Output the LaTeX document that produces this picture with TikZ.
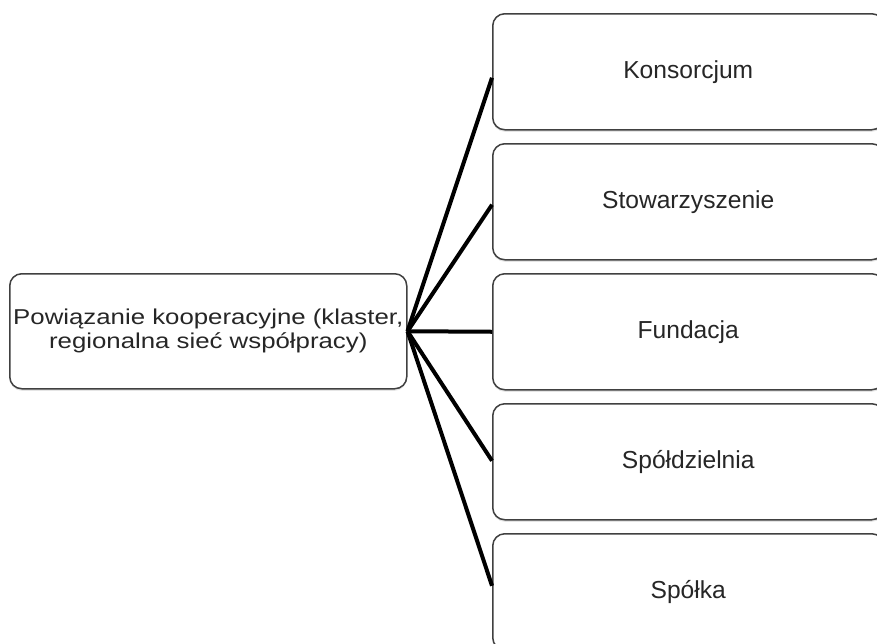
\documentclass[tikz,border=0pt]{standalone}
\usepackage{fontspec}
\setmainfont{Liberation Sans}
\newfontfamily\widefont[FakeStretch=1.2]{Liberation Sans}
\usetikzlibrary{shadows}
\begin{document}
\begin{tikzpicture}[x=1pt,y=-1pt,
  box/.style={draw=black!75, line width=1.5pt, rounded corners=12pt, fill=white,
    minimum width=391pt, minimum height=116pt, inner sep=0pt, anchor=north west,
    drop shadow={shadow xshift=0pt, shadow yshift=-2pt, opacity=0.25, fill=black!40},
    text=black!85, font=\fontsize{24.6pt}{28pt}\selectfont},
  srcbox/.style={box, minimum width=397pt, minimum height=115pt, align=center,
    font=\widefont\fontsize{21.5pt}{24pt}\selectfont},
  link/.style={line width=4pt, draw=black}]
\useasboundingbox (0,0) rectangle (877,643);
\node[srcbox] (src) at (9,273) {Powiązanie kooperacyjne (klaster,\\regionalna sieć współpracy)};
\node[box] (k1) at (492,13) {Konsorcjum};
\node[box] (k2) at (492,143) {Stowarzyszenie};
\node[box] (k3) at (492,273) {Fundacja};
\node[box] (k4) at (492,403) {Spółdzielnia};
\node[box] (k5) at (492,533) {Spółka};
\draw[link] (src.east) -- ([yshift=-6pt]k1.west);
\draw[link] (src.east) -- ([yshift=-3pt]k2.west);
\draw[link] (src.east) -- (k3.west);
\draw[link] (src.east) -- ([yshift=1pt]k4.west);
\draw[link] (src.east) -- ([yshift=6pt]k5.west);
\end{tikzpicture}
\end{document}
